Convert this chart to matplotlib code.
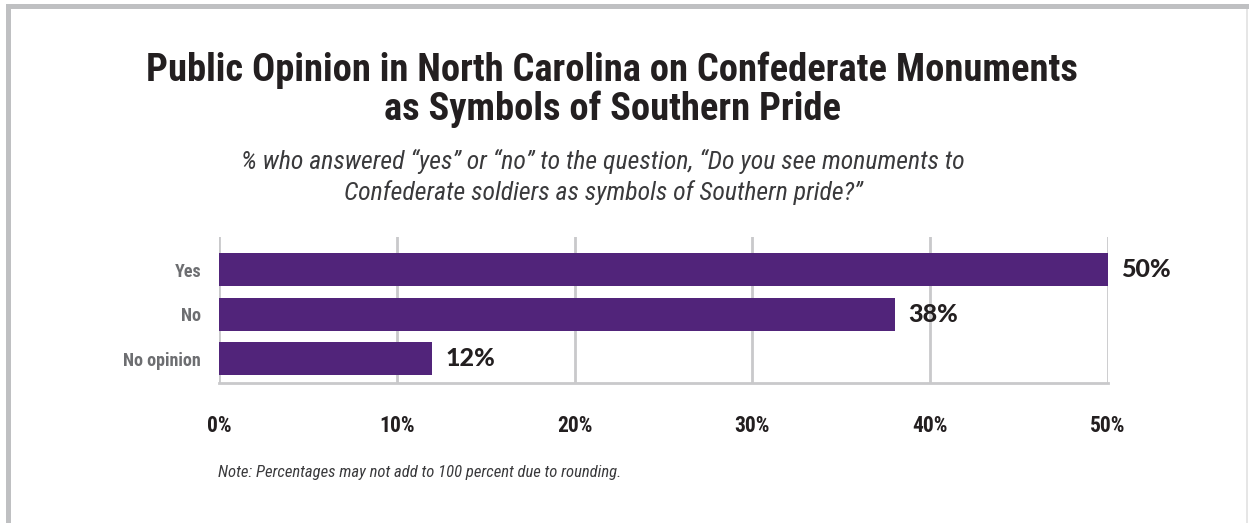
import matplotlib.pyplot as plt
from matplotlib.patches import Rectangle
from matplotlib.ticker import FuncFormatter

# Survey responses
categories = ["Yes", "No", "No opinion"]
shares = [50, 38, 12]
xticks = [0, 10, 20, 30, 40, 50]

title = "Public Opinion in North Carolina on Confederate Monuments\nas Symbols of Southern Pride"
subtitle = ("% who answered \u201cyes\u201d or \u201cno\u201d to the question, \u201cDo you see monuments to\n"
            "Confederate soldiers as symbols of Southern pride?\u201d")
note = "Note: Percentages may not add to 100 percent due to rounding."

purple = "#51247a"
grid_gray = "#c9c9cb"
narrow = ["Roboto Condensed", "Liberation Sans", "DejaVu Sans"]

fig = plt.figure(figsize=(12.49, 5.23), dpi=100)
fig.patch.set_facecolor("white")

# gray frame on top and left, thin line on the right
fig.add_artist(Rectangle((6 / 1249, 1 - 9 / 523), 1, 5 / 523, transform=fig.transFigure,
                         color="#bfc0c2", lw=0))
fig.add_artist(Rectangle((6 / 1249, 0), 5 / 1249, 1 - 4 / 523, transform=fig.transFigure,
                         color="#bfc0c2", lw=0))
fig.add_artist(Rectangle((1246 / 1249, 0), 2 / 1249, 1 - 9 / 523, transform=fig.transFigure,
                         color="#e6e6e6", lw=0))

ax = fig.add_axes([219 / 1249, 1 - 383 / 523, (1108 - 219) / 1249, (383 - 237) / 523])
y = list(range(len(categories)))
ax.barh(y, shares, height=0.74, color=purple, zorder=3)
ax.set_xlim(0, 50)
ax.set_ylim(2.54, -0.73)
ax.set_xticks(xticks)
ax.xaxis.set_major_formatter(FuncFormatter(lambda v, p: f"{v:.0f}%"))
ax.set_yticks(y)
ax.set_yticklabels(categories)
ax.grid(axis="x", color=grid_gray, lw=2, zorder=0)
ax.tick_params(length=0)
ax.tick_params(axis="x", pad=23, labelsize=15.5, labelcolor="#231f20")
ax.tick_params(axis="y", pad=13, labelsize=13, labelcolor="#6d6e71")
for lab in ax.get_xticklabels():
    lab.set_fontfamily(narrow)
    lab.set_fontweight("bold")
for lab in ax.get_yticklabels():
    lab.set_fontfamily(narrow)
    lab.set_fontweight("bold")
for s in ["top", "right", "left"]:
    ax.spines[s].set_visible(False)
ax.spines["bottom"].set_color(grid_gray)
ax.spines["bottom"].set_linewidth(2)

for yi, v in zip(y, shares):
    ax.text(v + 0.75, yi, f"{v}%", va="center", ha="left", fontsize=18,
            fontweight="black", family=["Lato", "DejaVu Sans"], color="#231f20")

fig.text(612 / 1249, 1 - 90 / 523, title, ha="center", va="center", fontsize=27.7,
         fontweight="bold", family=narrow, color="#231f20", linespacing=1.05)
fig.text(603 / 1249, 1 - 177 / 523, subtitle, ha="center", va="center", fontsize=18.5,
         style="italic", family=narrow, color="#3a3a3c", linespacing=1.3)
fig.text(218 / 1249, 1 - 472 / 523, note, ha="left", va="center", fontsize=12,
         style="italic", family=narrow, color="#3a3a3c")

fig.savefig("out.png", dpi=100)
